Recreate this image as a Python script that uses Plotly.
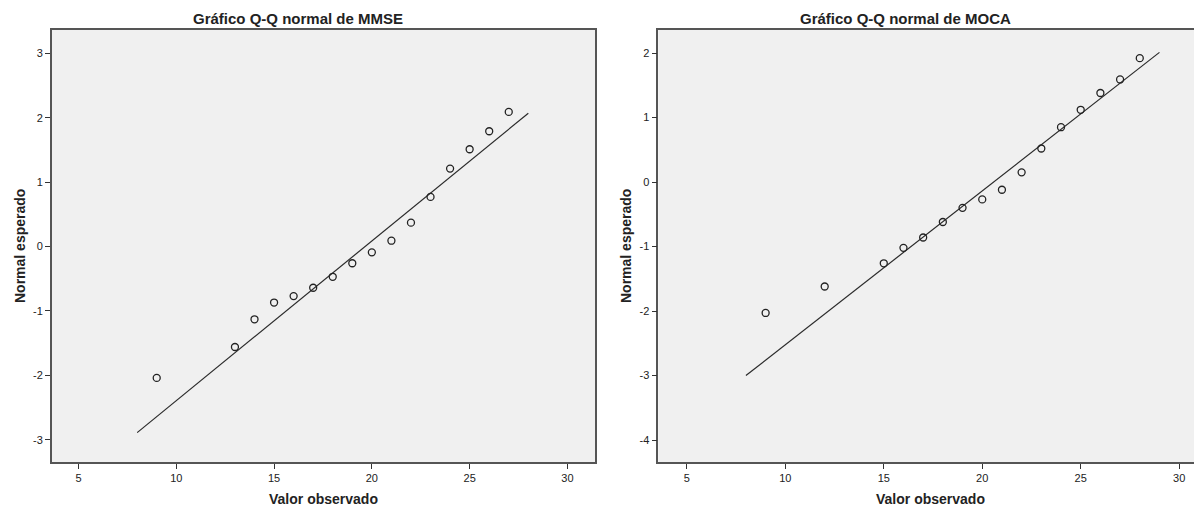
import plotly.graph_objects as go

# ---- data ----
mmse_obs = [9, 13, 14, 15, 16, 17, 18, 19, 20, 21, 22, 23, 24, 25, 26, 27]
mmse_z = [-2.04, -1.56, -1.13, -0.87, -0.77, -0.64, -0.47, -0.26, -0.09, 0.09, 0.37, 0.77, 1.21, 1.51, 1.79, 2.09]
mmse_line_x = [8, 28]
mmse_line_z = [-2.89, 2.07]

moca_obs = [9, 12, 15, 16, 17, 18, 19, 20, 21, 22, 23, 24, 25, 26, 27, 28]
moca_z = [-2.03, -1.62, -1.26, -1.02, -0.86, -0.62, -0.40, -0.27, -0.12, 0.15, 0.52, 0.85, 1.12, 1.38, 1.59, 1.92]
moca_line_x = [8, 29]
moca_line_z = [-3.00, 2.01]

x_ticks = [5, 10, 15, 20, 25, 30]
mmse_y_ticks = [-3, -2, -1, 0, 1, 2, 3]
moca_y_ticks = [-4, -3, -2, -1, 0, 1, 2]

titles = ["Gráfico Q-Q normal de MMSE", "Gráfico Q-Q normal de MOCA"]
x_title = "Valor observado"
y_title = "Normal esperado"

# page body has an 8px margin, so the figure is laid out 8px smaller
OFF = 8
W, H = 1202 - OFF, 508 - OFF
FONT = "Liberation Sans, Arial, sans-serif"
INK = "#222222"

fig = go.Figure()

for xs, ys, lx, ly, ax in [
    (mmse_obs, mmse_z, mmse_line_x, mmse_line_z, ("x", "y")),
    (moca_obs, moca_z, moca_line_x, moca_line_z, ("x2", "y2")),
]:
    fig.add_trace(go.Scatter(x=lx, y=ly, mode="lines", xaxis=ax[0], yaxis=ax[1],
                             line=dict(color="#2a2a2a", width=1.2), showlegend=False,
                             hoverinfo="skip"))
    fig.add_trace(go.Scatter(x=xs, y=ys, mode="markers", xaxis=ax[0], yaxis=ax[1],
                             marker=dict(symbol="circle-open", size=7, color=INK,
                                         line=dict(width=1.3, color=INK)),
                             showlegend=False))


def lab(v):
    return ("-%d" % -v) if v < 0 else str(v)


axis_common = dict(showgrid=False, zeroline=False, showline=True, linecolor="#555555",
                   linewidth=1.5, ticks="outside", ticklen=5, tickwidth=1.2, tickcolor="#333333",
                   tickfont=dict(family=FONT, size=11, color=INK))

fig.update_layout(
    width=W, height=H,
    margin=dict(l=0, r=0, t=30 - OFF, b=508 - 462),
    paper_bgcolor="white",
    plot_bgcolor="#f0f0f0",
    font=dict(family=FONT, color=INK),
    xaxis=dict(domain=[(51.7 - OFF) / W, (595 - OFF) / W], range=[3.63, 31.41],
               tickvals=x_ticks, ticktext=[lab(v) for v in x_ticks],
               anchor="y", mirror=True, **axis_common),
    yaxis=dict(domain=[0, 1], range=[-3.346, 3.362], tickvals=mmse_y_ticks,
               ticktext=[lab(v) for v in mmse_y_ticks],
               anchor="x", mirror=True, **axis_common),
    xaxis2=dict(domain=[(658.3 - OFF) / W, 1.0], range=[3.55, 31.16],
                tickvals=x_ticks, ticktext=[lab(v) for v in x_ticks],
                anchor="y2", mirror=True, **axis_common),
    yaxis2=dict(domain=[0, 1], range=[-4.341, 2.357], tickvals=moca_y_ticks,
                ticktext=[lab(v) for v in moca_y_ticks],
                anchor="x2", mirror=False, **axis_common),
)

# panel titles
for cx, t in [(298 - OFF, titles[0]), (905 - OFF, titles[1])]:
    fig.add_annotation(text="<b>%s</b>" % t, x=cx / W, y=1, xref="paper", yref="paper",
                       xanchor="center", yanchor="middle", yshift=12, showarrow=False,
                       font=dict(family=FONT, size=15, color=INK))

# axis titles
for xr, yr, px in [("x domain", "y domain", 20), ("x2 domain", "y2 domain", 626)]:
    fig.add_annotation(text="<b>%s</b>" % x_title, x=0.5, y=0, xref=xr, yref=yr,
                       xanchor="center", yanchor="middle", yshift=-37, showarrow=False,
                       font=dict(family=FONT, size=14, color=INK))
    fig.add_annotation(text="<b>%s</b>" % y_title, x=(px - OFF) / W, y=0.5, xref="paper",
                       yref=yr, xanchor="center", yanchor="middle", textangle=-90,
                       showarrow=False, font=dict(family=FONT, size=14, color=INK))

fig.write_html("out.html")
